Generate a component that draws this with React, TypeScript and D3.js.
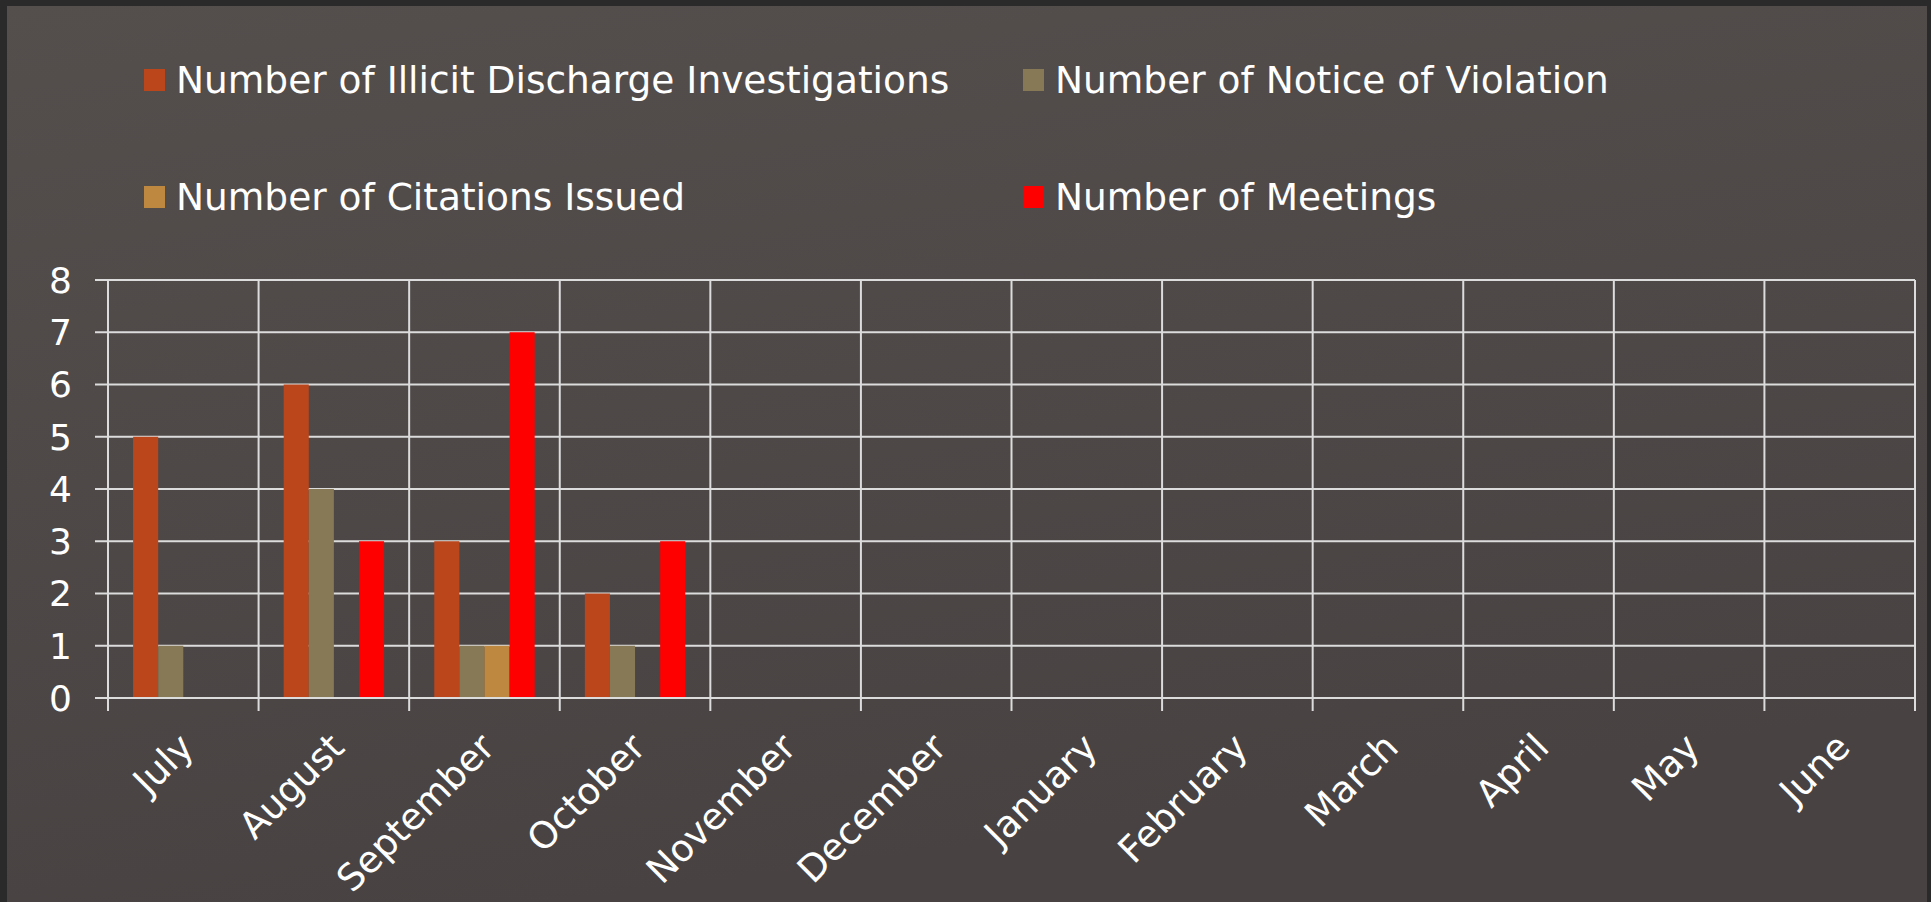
import { useEffect, useRef } from 'react'
import * as d3 from 'd3'

// * Chart data
const months = ['July', 'August', 'September', 'October', 'November', 'December', 'January', 'February', 'March', 'April', 'May', 'June']
const illicitDischarge = [5, 6, 3, 2, 0, 0, 0, 0, 0, 0, 0, 0]
const noticeOfViolation = [1, 4, 1, 1, 0, 0, 0, 0, 0, 0, 0, 0]
const citationsIssued = [0, 0, 1, 0, 0, 0, 0, 0, 0, 0, 0, 0]
const meetings = [0, 3, 7, 3, 0, 0, 0, 0, 0, 0, 0, 0]
const seriesNames = [
  'Number of Illicit Discharge Investigations',
  'Number of Notice of Violation',
  'Number of Citations Issued',
  'Number of Meetings',
]
const seriesColors = ['#bc461c', '#877856', '#bf8841', '#ff0000']
const yTicks = [0, 1, 2, 3, 4, 5, 6, 7, 8]

const W = 1931
const H = 902
const FONT = "'DejaVu Sans', Verdana, sans-serif"

export default function App() {
  const ref = useRef<SVGSVGElement | null>(null)

  useEffect(() => {
    const svg = d3.select(ref.current)
    svg.selectAll('*').remove()

    // * Background + frame
    const defs = svg.append('defs')
    const grad = defs.append('linearGradient').attr('id', 'bg').attr('x1', 0).attr('y1', 0).attr('x2', 0.3).attr('y2', 1)
    grad.append('stop').attr('offset', '0%').attr('stop-color', '#544e4d')
    grad.append('stop').attr('offset', '100%').attr('stop-color', '#484342')

    svg.append('rect').attr('width', W).attr('height', H).attr('fill', '#2b2a2a')
    svg.append('rect').attr('x', 7).attr('y', 6).attr('width', 1920).attr('height', H - 6).attr('fill', 'url(#bg)')

    // * Scales
    const margin = { top: 280, left: 108, right: 16, bottom: 204 }
    const x = d3.scaleBand<string>().domain(months).range([margin.left, W - margin.right]).padding(0)
    const inner = d3
      .scaleBand<number>()
      .domain([0, 1, 2, 3])
      .range([x.bandwidth() / 6, (x.bandwidth() * 5) / 6])
      .padding(0)
    const y = d3.scaleLinear().domain([0, 8]).range([H - margin.bottom, margin.top])

    const grid = svg.append('g').attr('stroke', '#dcdcdc').attr('stroke-width', 2)

    // * Horizontal grid lines + y ticks
    grid
      .selectAll('.hline')
      .data(yTicks)
      .enter()
      .append('line')
      .attr('x1', margin.left - 13)
      .attr('x2', W - margin.right)
      .attr('y1', (d) => y(d))
      .attr('y2', (d) => y(d))

    // * Vertical grid lines + x ticks
    const xEdges = months.map((m) => x(m)!).concat([W - margin.right])
    grid
      .selectAll('.vline')
      .data(xEdges)
      .enter()
      .append('line')
      .attr('x1', (d) => d)
      .attr('x2', (d) => d)
      .attr('y1', y(8))
      .attr('y2', y(0) + 13)

    // * Bars
    const series = [illicitDischarge, noticeOfViolation, citationsIssued, meetings]
    series.forEach((values, si) => {
      svg
        .append('g')
        .selectAll('rect')
        .data(values.map((v, i) => ({ month: months[i], v })).filter((d) => d.v > 0))
        .enter()
        .append('rect')
        .attr('x', (d) => x(d.month)! + inner(si)!)
        .attr('width', inner.bandwidth())
        .attr('y', (d) => y(d.v))
        .attr('height', (d) => y(0) - y(d.v))
        .attr('fill', seriesColors[si])
    })

    // * Zero line on top of bars
    svg
      .append('line')
      .attr('x1', margin.left - 13)
      .attr('x2', W - margin.right)
      .attr('y1', y(0))
      .attr('y2', y(0))
      .attr('stroke', '#dcdcdc')
      .attr('stroke-width', 2)

    // * Y labels
    svg
      .append('g')
      .selectAll('text')
      .data(yTicks)
      .enter()
      .append('text')
      .attr('x', 72)
      .attr('y', (d) => y(d))
      .attr('dy', '0.36em')
      .attr('text-anchor', 'end')
      .attr('fill', '#ffffff')
      .attr('font-family', FONT)
      .attr('font-size', 36)
      .text((d) => d)

    // * X labels (rotated)
    svg
      .append('g')
      .selectAll('text')
      .data(months)
      .enter()
      .append('text')
      .attr('transform', (d) => `translate(${x(d)! + x.bandwidth() / 2 + 3},${y(0) + 42}) rotate(-45)`)
      .attr('dy', '0.36em')
      .attr('text-anchor', 'end')
      .attr('fill', '#ffffff')
      .attr('font-family', FONT)
      .attr('font-size', 37)
      .text((d) => d)

    // * Legend
    const legendPos = [
      { x: 144, y: 93 },
      { x: 1023, y: 93 },
      { x: 144, y: 210 },
      { x: 1023, y: 210 },
    ]
    const legend = svg
      .append('g')
      .selectAll('g')
      .data(seriesNames)
      .enter()
      .append('g')
      .attr('transform', (d, i) => `translate(${legendPos[i].x},${legendPos[i].y})`)
    legend
      .append('rect')
      .attr('x', 0)
      .attr('y', -24)
      .attr('width', 21)
      .attr('height', 22)
      .attr('fill', (d, i) => seriesColors[i])
    legend
      .append('text')
      .attr('x', 32)
      .attr('y', 0)
      .attr('fill', '#ffffff')
      .attr('font-family', FONT)
      .attr('font-size', 37.5)
      .text((d) => d)
  }, [])

  return (
    <div style={{ position: 'absolute', left: 0, top: 0 }}>
      <svg width={W} height={H} ref={ref} style={{ display: 'block' }} />
    </div>
  )
}
